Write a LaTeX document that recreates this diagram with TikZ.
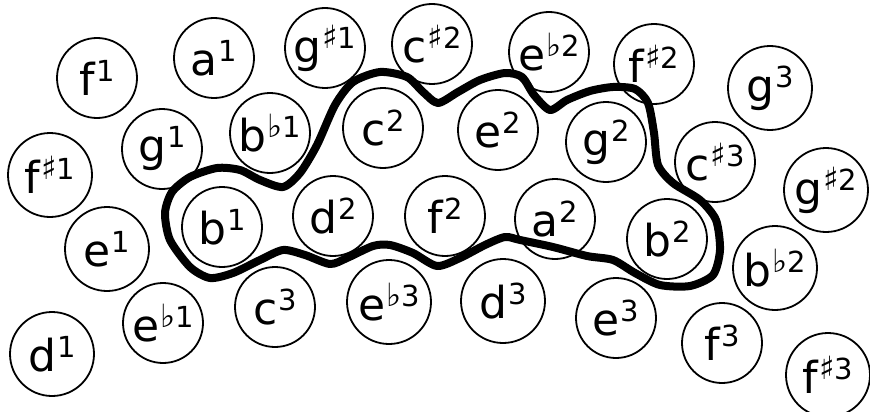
\documentclass[tikz,border=0pt]{standalone}
\usepackage{fontspec}
\setmainfont{DejaVu Sans}
\newcommand{\nt}[3]{{\fontsize{44}{44}\selectfont #1}\kern1pt\raisebox{14pt}{{\fontsize{32}{32}\selectfont #2}{\fontsize{29}{29}\selectfont #3}}}
\tikzset{
  ring/.style={circle, draw, line width=1.8pt, minimum size=80pt, inner sep=0pt},
  bigring/.style={ring, minimum size=84pt},
  lab/.style={inner sep=0pt, text=black},
  hull/.style={line width=8pt, line join=round, line cap=round}
}
\begin{document}
\begin{tikzpicture}[x=1pt, y=-1pt]
\useasboundingbox (0,0) rectangle (870,412);
% top row
\node[ring, label={[lab]center:\nt{f}{}{1}}] (f1) at (97,78) {};
\node[ring, label={[lab]center:\nt{a}{}{1}}] (a1) at (214,58) {};
\node[ring, label={[lab]center:\nt{g}{♯}{1}}] (gs1) at (325,48) {};
\node[ring, label={[lab]center:\nt{c}{♯}{2}}] (cs2) at (432,44) {};
\node[ring, label={[lab]center:\nt{e}{♭}{2}}] (eb2) at (549,52) {};
\node[ring, label={[lab]center:\nt{f}{♯}{2}}] (fs2) at (654,64) {};
\node[bigring, label={[lab]center:\nt{g}{}{3}}] (g3) at (770,88) {};
% second row
\node[bigring, label={[lab]center:\nt{f}{♯}{1}}] (fs1) at (50,175) {};
\node[ring, label={[lab]center:\nt{g}{}{1}}] (g1) at (162,149) {};
\node[ring, label={[lab]center:\nt{b}{♭}{1}}] (bb1) at (270,133) {};
\node[ring, label={[lab]center:\nt{c}{}{2}}] (c2) at (383,128) {};
\node[ring, label={[lab]center:\nt{e}{}{2}}] (e2) at (498,130) {};
\node[ring, label={[lab]center:\nt{g}{}{2}}] (g2) at (606,142) {};
\node[ring, label={[lab]center:\nt{c}{♯}{3}}] (cs3) at (715,162) {};
\node[bigring, label={[lab]center:\nt{g}{♯}{2}}] (gs2) at (826,190) {};
% third row
\node[bigring, label={[lab]center:\nt{e}{}{1}}] (e1) at (107,249) {};
\node[ring, label={[lab]center:\nt{b}{}{1}}] (b1) at (222,227) {};
\node[ring, label={[lab]center:\nt{d}{}{2}}] (d2) at (333,216) {};
\node[ring, label={[lab]center:\nt{f}{}{2}}] (f2) at (445,216) {};
\node[ring, label={[lab]center:\nt{a}{}{2}}] (a2) at (555,219) {};
\node[ring, label={[lab]center:\nt{b}{}{2}}] (b2) at (667,239) {};
\node[bigring, label={[lab]center:\nt{b}{♭}{2}}] (bb2) at (775,268) {};
% bottom row
\node[bigring, label={[lab]center:\nt{d}{}{1}}] (d1) at (52,354) {};
\node[ring, label={[lab]center:\nt{e}{♭}{1}}] (eb1) at (163,323) {};
\node[ring, label={[lab]center:\nt{c}{}{3}}] (c3) at (275,307) {};
\node[bigring, label={[lab]center:\nt{e}{♭}{3}}] (eb3) at (389,302) {};
\node[bigring, label={[lab]center:\nt{d}{}{3}}] (d3) at (503,301) {};
\node[ring, label={[lab]center:\nt{e}{}{3}}] (e3) at (616,318) {};
\node[ring, label={[lab]center:\nt{f}{}{3}}] (f3) at (722,343) {};
\node[bigring, label={[lab]center:\nt{f}{♯}{3}}] (fs3) at (828,375) {};
% thick boundary
\draw[hull] plot[smooth cycle, tension=0.45] coordinates {
 (165,213) (172,192) (190,177) (217,168) (240,170) (260,180) (283,187)
 (300,173) (317,145) (335,105) (353,82) (380,72) (407,77) (423,92)
 (438,103) (458,92) (480,80) (505,73) (522,77) (534,95) (550,110)
 (567,100) (590,91) (613,87) (635,89) (648,103) (654,133) (658,165)
 (673,183) (700,200) (716,220) (720,250) (713,275) (690,286) (660,285)
 (635,273) (613,260) (587,256) (553,247) (520,240) (505,237) (485,245)
 (460,258) (437,266) (413,253) (390,245) (373,246) (347,258) (330,264)
 (305,255) (283,250) (260,260) (233,273) (210,278) (190,267) (170,240)};
\end{tikzpicture}
\end{document}
